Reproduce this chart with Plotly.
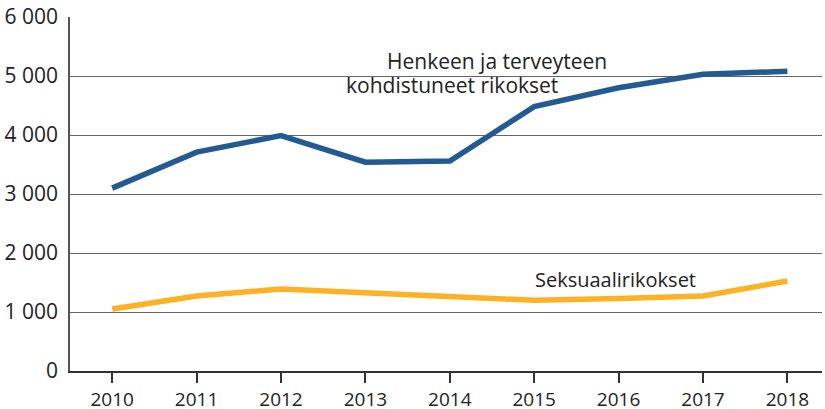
import plotly.graph_objects as go

years = [2010, 2011, 2012, 2013, 2014, 2015, 2016, 2017, 2018]
henki = [3100, 3710, 3990, 3540, 3560, 4480, 4800, 5030, 5080]
seksuaali = [1050, 1270, 1390, 1320, 1250, 1200, 1230, 1270, 1525]
yticks = [0, 1000, 2000, 3000, 4000, 5000, 6000]
ylabels = ["0", "1 000", "2 000", "3 000", "4 000", "5 000", "6 000"]

fig = go.Figure()
fig.add_trace(go.Scatter(x=years, y=henki, mode="lines",
                         line=dict(color="#245a92", width=5.5), showlegend=False))
fig.add_trace(go.Scatter(x=years, y=seksuaali, mode="lines",
                         line=dict(color="#fdb125", width=5.5), showlegend=False))

font = dict(family="Open Sans, Noto Sans, sans-serif", size=20, color="#222222")
fig.add_annotation(x=2013.23, y=5250, text="Henkeen ja terveyteen", showarrow=False,
                   xanchor="left", yanchor="middle", font=dict(font, size=21))
fig.add_annotation(x=2012.75, y=4850, text="kohdistuneet rikokset", showarrow=False,
                   xanchor="left", yanchor="middle", font=dict(font, size=21))
fig.add_annotation(x=2014.99, y=1550, text="Seksuaalirikokset", showarrow=False,
                   xanchor="left", yanchor="middle", font=dict(font, size=20))

fig.update_layout(
    width=825, height=409,
    margin=dict(l=70, r=3, t=17, b=38, autoexpand=False),
    paper_bgcolor="white", plot_bgcolor="white",
    font=font,
)
fig.update_xaxes(range=[2009.5, 2018.41], tickvals=years, ticktext=[str(y) for y in years],
                 showgrid=False, ticks="outside", ticklen=10, tickcolor="#333", tickwidth=1.5,
                 showline=True, linecolor="#333", linewidth=2, zeroline=False,
                 tickfont=dict(size=19), automargin=False)
fig.update_yaxes(range=[0, 6000], tickvals=yticks, ticktext=ylabels,
                 showgrid=True, gridcolor="#666", gridwidth=1,
                 showline=True, linecolor="#555", linewidth=1.5, zeroline=False,
                 ticks="", tickfont=dict(size=21), ticklabelstandoff=6, automargin=False)

fig.write_html("out.html", config={"displayModeBar": False},
               post_script="document.body.style.margin='0';")
